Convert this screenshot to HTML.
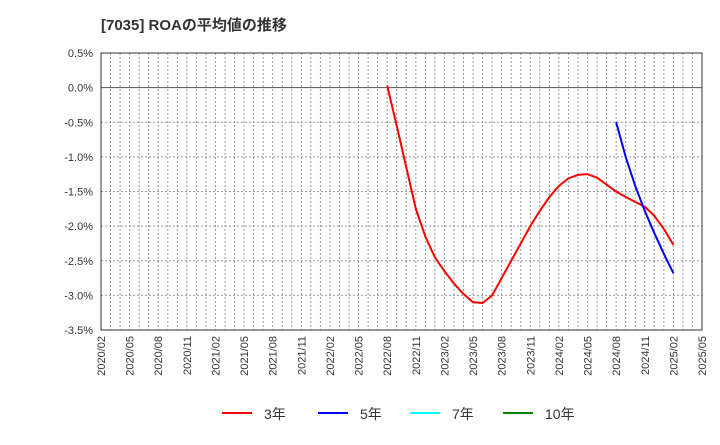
<!DOCTYPE html>
<html><head><meta charset="utf-8"><style>
body{margin:0;background:#fff;font-family:"Liberation Sans","Noto Sans CJK JP",sans-serif;}
svg text{font-family:"Liberation Sans","Noto Sans CJK JP",sans-serif;}
</style></head><body>
<svg id="c" width="720" height="440">
<text x="101" y="30" font-size="15" font-weight="bold" fill="#333">[7035]  ROAの平均値の推移</text>
</svg>
<script>
const yTicks=[0.5,0,-0.5,-1,-1.5,-2,-2.5,-3,-3.5];
const xLabels=["2020/02","2020/05","2020/08","2020/11","2021/02","2021/05","2021/08","2021/11","2022/02","2022/05","2022/08","2022/11","2023/02","2023/05","2023/08","2023/11","2024/02","2024/05","2024/08","2024/11","2025/02","2025/05"];
const red=[0.03,-0.55,-1.15,-1.75,-2.15,-2.45,-2.65,-2.83,-2.98,-3.10,-3.11,-3.00,-2.75,-2.50,-2.25,-2.00,-1.78,-1.58,-1.42,-1.31,-1.26,-1.25,-1.30,-1.40,-1.50,-1.58,-1.65,-1.72,-1.85,-2.04,-2.27];
const redStart=30; // months from 2020/02 (2022/08)
const blue=[-0.50,-1.00,-1.42,-1.78,-2.10,-2.40,-2.68];
const blueStart=54; // 2024/08
const NS="http://www.w3.org/2000/svg",svg=document.getElementById('c');
const L=101,R=702,T=53,B=330;
const xm=m=>L+(R-L)*m/63, yv=v=>T+(0.5-v)/4*(B-T);
function mk(t,a){const e=document.createElementNS(NS,t);for(const k in a)e.setAttribute(k,a[k]);svg.appendChild(e);return e;}
for(let m=0;m<=63;m++){const g=mk('line',{x1:xm(m),x2:xm(m),y1:T,y2:B,stroke:'#999','stroke-dasharray':'2,2','stroke-width':1});

}
yTicks.forEach(v=>{const g=mk('line',{x1:L,x2:R,y1:yv(v),y2:yv(v),stroke:v===0?'#555':'#999','stroke-dasharray':v===0?'':'2,2','stroke-width':1});


const t=mk('text',{x:L-8,y:yv(v)+4,'text-anchor':'end','font-size':11,fill:'#333'});t.textContent=v.toFixed(1)+'%';

});
const fr=mk('rect',{x:L,y:T,width:R-L,height:B-T,fill:'none',stroke:'#333'});


xLabels.forEach((s,i)=>{const x=xm(i*3)+4,y=B+6;const t=mk('text',{x:x,y:y,transform:`rotate(-90 ${x} ${y})`,'text-anchor':'end','font-size':11,fill:'#333'});t.textContent=s;

});
function line(d,s,c,n){const p=mk('polyline',{points:d.map((v,i)=>xm(s+i)+','+yv(v)).join(' '),fill:'none',stroke:c,'stroke-width':2});

}
line(red,redStart,'#f00','series-3yr');
line(blue,blueStart,'#00f','series-5yr');
[['3年','#f00',222],['5年','#00f',318],['7年','#0ff',410],['10年','#080',503]].forEach(([n,c,x])=>{
const l=mk('line',{x1:x,x2:x+30,y1:413,y2:413,stroke:c,'stroke-width':2});


const t=mk('text',{x:x+42,y:419,'font-size':14,fill:'#333'});t.textContent=n;

});
</script>
</body></html>
